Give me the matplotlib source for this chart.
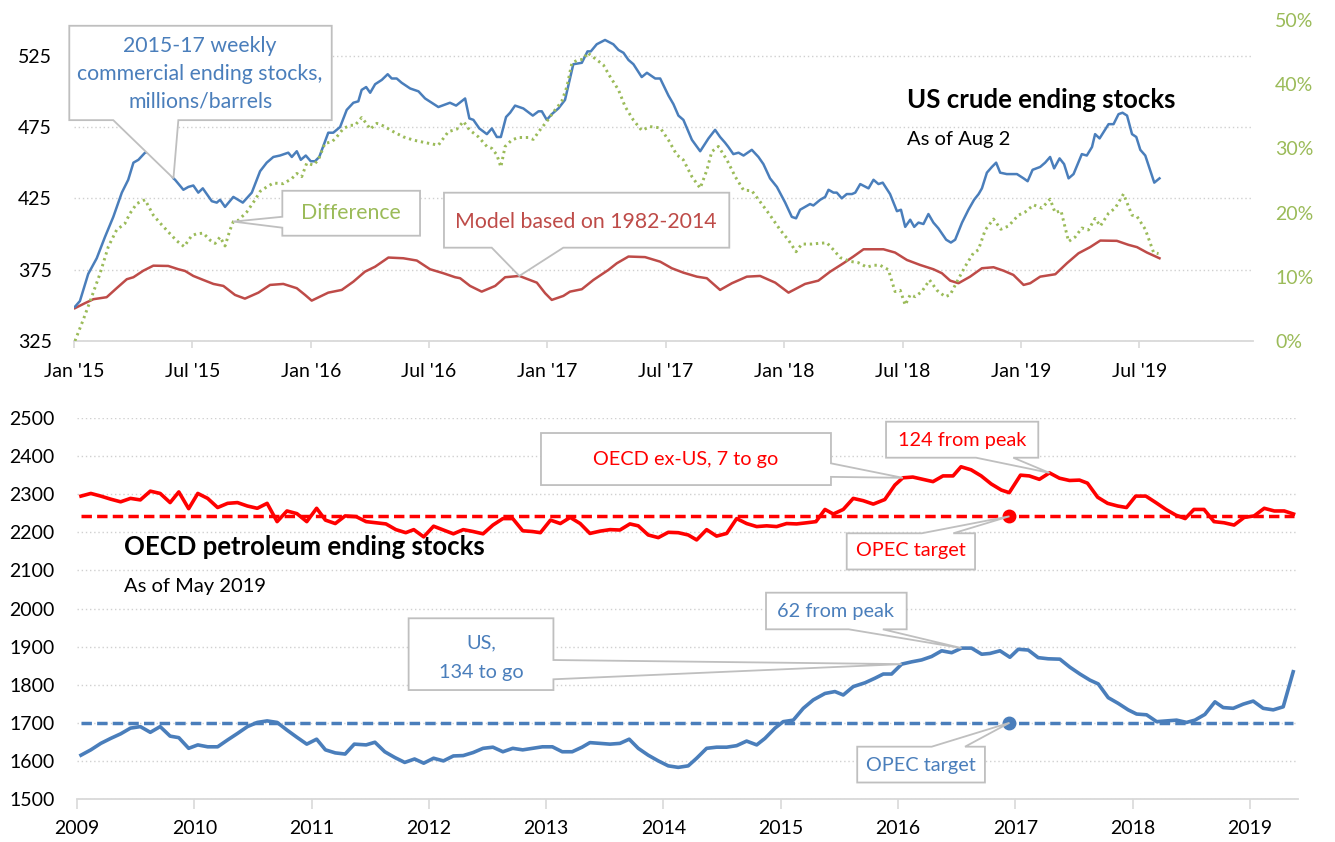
import matplotlib
matplotlib.use("Agg")
import matplotlib.pyplot as plt
from matplotlib.patches import Polygon

plt.rcParams['font.family'] = ['Lato', 'DejaVu Sans']

# ---- top chart: US crude ending stocks (weekly, decimal years) ----
blue_t = [2015.004, 2015.025, 2015.060, 2015.096, 2015.131, 2015.166, 2015.202, 2015.229, 2015.251, 2015.272,
          2015.300, 2015.342, 2015.384, 2015.420, 2015.427, 2015.462, 2015.483, 2015.504, 2015.525, 2015.544,
          2015.582, 2015.603, 2015.617, 2015.638, 2015.673, 2015.713, 2015.751, 2015.786, 2015.814, 2015.842,
          2015.870, 2015.905, 2015.920, 2015.941, 2015.958, 2015.979, 2016.000, 2016.018, 2016.036, 2016.074,
          2016.095, 2016.124, 2016.152, 2016.180, 2016.201, 2016.215, 2016.234, 2016.251, 2016.272, 2016.300,
          2016.325, 2016.342, 2016.363, 2016.384, 2016.420, 2016.455, 2016.483, 2016.539, 2016.588, 2016.614,
          2016.652, 2016.670, 2016.687, 2016.712, 2016.744, 2016.765, 2016.786, 2016.803, 2016.825, 2016.842,
          2016.863, 2016.898, 2016.938, 2016.962, 2016.976, 2016.997, 2017.018, 2017.046, 2017.074, 2017.109,
          2017.145, 2017.169, 2017.183, 2017.208, 2017.243, 2017.278, 2017.300, 2017.321, 2017.342, 2017.363,
          2017.398, 2017.420, 2017.455, 2017.476, 2017.511, 2017.532, 2017.553, 2017.574, 2017.610, 2017.645,
          2017.680, 2017.708, 2017.729, 2017.750, 2017.764, 2017.785, 2017.807, 2017.828, 2017.863, 2017.891,
          2017.912, 2017.940, 2017.969, 2018.004, 2018.032, 2018.050, 2018.067, 2018.109, 2018.123, 2018.152,
          2018.173, 2018.187, 2018.208, 2018.222, 2018.243, 2018.264, 2018.286, 2018.300, 2018.321, 2018.356,
          2018.377, 2018.398, 2018.416, 2018.447, 2018.476, 2018.493, 2018.511, 2018.532, 2018.549, 2018.567,
          2018.588, 2018.609, 2018.630, 2018.651, 2018.684, 2018.704, 2018.722, 2018.751, 2018.778, 2018.802,
          2018.821, 2018.835, 2018.856, 2018.877, 2018.895, 2018.912, 2018.940, 2018.983, 2019.011, 2019.028,
          2019.049, 2019.081, 2019.102, 2019.123, 2019.140, 2019.163, 2019.182, 2019.201, 2019.222, 2019.257,
          2019.278, 2019.300, 2019.313, 2019.332, 2019.370, 2019.391, 2019.412, 2019.429, 2019.448, 2019.469,
          2019.487, 2019.504, 2019.525, 2019.563, 2019.585]
blue_v = [349, 353, 372, 383, 398, 412, 429, 438, 450, 452,
          457, 459, 449, 439, 438, 431, 433, 434, 429, 432,
          423, 422, 424, 419, 426, 422, 429, 444, 450, 454,
          455, 457, 454, 458, 452, 455, 451, 451, 454, 471,
          471, 475, 487, 492, 493, 501, 503, 499, 505, 508,
          512, 509, 509, 506, 502, 500, 495, 489, 492, 490,
          495, 481, 480, 474, 470, 474, 468, 468, 482, 485,
          490, 488, 483, 486, 486, 480, 484, 488, 494, 519,
          520, 528, 528, 533, 536, 533, 529, 527, 522, 519,
          510, 513, 509, 509, 497, 491, 483, 480, 466, 458,
          467, 473, 468, 464, 461, 456, 457, 455, 459, 454,
          449, 439, 433, 422, 412, 411, 417, 421, 420, 424,
          426, 431, 429, 429, 425, 428, 428, 429, 435, 432,
          438, 435, 436, 428, 416, 417, 405, 410, 405, 408,
          407, 414, 408, 404, 396, 394, 396, 408, 417, 424,
          428, 432, 443, 447, 450, 443, 442, 442, 439, 437,
          445, 447, 450, 454, 446, 453, 449, 439, 442, 456,
          455, 461, 470, 467, 477, 477, 484, 485, 483, 470,
          468, 459, 455, 436, 439]

model_t = [2015.004, 2015.046, 2015.082, 2015.138, 2015.180, 2015.223, 2015.251, 2015.293, 2015.335, 2015.398,
           2015.441, 2015.469, 2015.504, 2015.546, 2015.589, 2015.631, 2015.680, 2015.722, 2015.779, 2015.828,
           2015.884, 2015.941, 2015.976, 2016.004, 2016.039, 2016.074, 2016.131, 2016.180, 2016.229, 2016.272,
           2016.328, 2016.391, 2016.448, 2016.504, 2016.560, 2016.610, 2016.631, 2016.673, 2016.722, 2016.779,
           2016.821, 2016.881, 2016.955, 2016.990, 2017.018, 2017.067, 2017.095, 2017.145, 2017.194, 2017.257,
           2017.293, 2017.342, 2017.412, 2017.476, 2017.525, 2017.574, 2017.631, 2017.673, 2017.729, 2017.779,
           2017.842, 2017.898, 2017.962, 2018.018, 2018.088, 2018.144, 2018.194, 2018.250, 2018.292, 2018.335,
           2018.398, 2018.419, 2018.468, 2018.518, 2018.574, 2018.630, 2018.666, 2018.701, 2018.736, 2018.785,
           2018.835, 2018.884, 2018.926, 2018.968, 2019.011, 2019.039, 2019.081, 2019.145, 2019.194, 2019.243,
           2019.292, 2019.335, 2019.405, 2019.454, 2019.490, 2019.532, 2019.585]
model_v = [348, 351.5, 354.3, 355.7, 362, 368.3, 369.7, 374.3, 377.8, 377.6,
           375.3, 374.1, 370.6, 367.8, 365, 363.6, 357.3, 354.7, 358.9, 364.3,
           365, 362, 357.3, 353.3, 356.1, 358.9, 360.8, 366.6, 373.6, 377.1,
           383.5, 383, 381.4, 375.3, 372.5, 369.7, 369, 363.6, 359.6, 363.6,
           369.7, 370.6, 365.9, 358.5, 353.8, 356.6, 359.6, 361.3, 367.8, 374.8,
           379.5, 384.2, 383.8, 380.6, 376, 372.9, 370.1, 369, 360.8, 365.5,
           370.1, 370.6, 365.9, 358.9, 365, 367.3, 373.6, 379.5, 384.2, 389.3,
           389.3, 389.3, 387, 381.8, 378.3, 375.3, 372.5, 367.3, 365.5, 370.1,
           376, 376.7, 374.3, 371.3, 364.3, 365.5, 370.1, 371.8, 379.5, 386.5,
           390.8, 395.4, 395.2, 392.4, 390.8, 387, 383]

diff_t = [2015.004, 2015.039, 2015.075, 2015.110, 2015.145, 2015.180, 2015.215, 2015.237, 2015.265, 2015.300,
          2015.335, 2015.363, 2015.398, 2015.434, 2015.465, 2015.497, 2015.518, 2015.546, 2015.575, 2015.596,
          2015.617, 2015.638, 2015.659, 2015.673, 2015.694, 2015.730, 2015.765, 2015.786, 2015.814, 2015.842,
          2015.884, 2015.920, 2015.941, 2015.962, 2015.983, 2016.011, 2016.032, 2016.060, 2016.089, 2016.110,
          2016.138, 2016.166, 2016.187, 2016.215, 2016.237, 2016.251, 2016.279, 2016.307, 2016.349, 2016.391,
          2016.433, 2016.483, 2016.539, 2016.581, 2016.617, 2016.645, 2016.670, 2016.708, 2016.744, 2016.765,
          2016.786, 2016.803, 2016.821, 2016.849, 2016.877, 2016.919, 2016.940, 2016.969, 2016.997, 2017.032,
          2017.060, 2017.082, 2017.103, 2017.124, 2017.152, 2017.169, 2017.201, 2017.236, 2017.264, 2017.300,
          2017.328, 2017.363, 2017.398, 2017.433, 2017.476, 2017.511, 2017.546, 2017.574, 2017.610, 2017.645,
          2017.673, 2017.694, 2017.722, 2017.758, 2017.793, 2017.828, 2017.863, 2017.898, 2017.940, 2017.983,
          2018.018, 2018.050, 2018.074, 2018.117, 2018.144, 2018.180, 2018.208, 2018.236, 2018.278, 2018.313,
          2018.349, 2018.377, 2018.405, 2018.440, 2018.468, 2018.490, 2018.511, 2018.532, 2018.553, 2018.581,
          2018.614, 2018.645, 2018.680, 2018.701, 2018.729, 2018.764, 2018.799, 2018.820, 2018.849, 2018.884,
          2018.915, 2018.947, 2018.989, 2019.018, 2019.053, 2019.088, 2019.123, 2019.144, 2019.169, 2019.201,
          2019.229, 2019.257, 2019.285, 2019.313, 2019.335, 2019.370, 2019.398, 2019.433, 2019.469, 2019.490,
          2019.525, 2019.560, 2019.581]
diff_v = [0, 3.3, 6.9, 10.5, 14.7, 17.3, 18.3, 19.9, 21.4, 22.0,
          19.6, 18.4, 17.0, 15.6, 14.7, 16.4, 16.7, 16.8, 15.7, 15.2,
          16.2, 14.8, 17.3, 18.6, 18.8, 20.1, 22.0, 23.3, 24.0, 24.6,
          24.5, 25.3, 26.1, 25.6, 27.7, 27.4, 28.2, 30.8, 31.0, 31.8,
          33.1, 33.6, 33.6, 34.8, 33.8, 33.0, 33.9, 33.5, 32.6, 31.8,
          31.3, 30.9, 30.5, 32.6, 33.0, 34.2, 32.9, 31.8, 30.3, 30.0,
          29.0, 27.1, 30.3, 31.3, 31.7, 31.7, 31.4, 32.9, 34.2, 36.0,
          37.3, 39.6, 43.3, 43.7, 43.9, 44.9, 44.0, 43.0, 41.2, 39.1,
          36.5, 34.4, 32.8, 33.4, 33.2, 31.3, 29.0, 28.2, 25.6, 23.8,
          26.6, 29.5, 30.3, 28.2, 25.6, 23.5, 23.4, 21.7, 19.6, 17.3,
          15.7, 13.9, 15.1, 15.1, 15.2, 15.3, 14.2, 13.0, 12.4, 12.2,
          11.5, 11.8, 11.8, 11.1, 7.7, 7.9, 5.6, 7.2, 6.9, 7.7,
          9.5, 7.9, 6.9, 7.2, 9.2, 11.6, 13.7, 14.2, 17.3, 19.0,
          17.4, 17.9, 19.6, 20.1, 21.2, 20.7, 22.1, 20.0, 20.3, 15.5,
          16.2, 17.6, 17.3, 19.1, 17.9, 19.9, 20.7, 22.9, 19.6, 19.4,
          17.4, 13.8, 13.6]

top_ticks = [2015, 2015.5, 2016, 2016.5, 2017, 2017.5, 2018, 2018.5, 2019, 2019.5]
top_labels = ["Jan '15", "Jul '15", "Jan '16", "Jul '16", "Jan '17", "Jul '17",
              "Jan '18", "Jul '18", "Jan '19", "Jul '19"]

# ---- bottom chart: OECD petroleum ending stocks (monthly, decimal years) ----
exus_t = [2009.034, 2009.118, 2009.203, 2009.287, 2009.372, 2009.456, 2009.540, 2009.625, 2009.709, 2009.794,
          2009.868, 2009.952, 2010.030, 2010.114, 2010.199, 2010.284, 2010.368, 2010.453, 2010.537, 2010.621,
          2010.706, 2010.790, 2010.875, 2010.959, 2011.043, 2011.118, 2011.202, 2011.286, 2011.381, 2011.465,
          2011.550, 2011.634, 2011.719, 2011.803, 2011.871, 2011.956, 2012.040, 2012.124, 2012.209, 2012.293,
          2012.378, 2012.462, 2012.546, 2012.631, 2012.715, 2012.800, 2012.884, 2012.951, 2013.037, 2013.121,
          2013.205, 2013.290, 2013.373, 2013.459, 2013.544, 2013.629, 2013.714, 2013.785, 2013.870, 2013.956,
          2014.041, 2014.126, 2014.211, 2014.283, 2014.368, 2014.453, 2014.539, 2014.624, 2014.709, 2014.795,
          2014.880, 2014.965, 2015.050, 2015.136, 2015.221, 2015.300, 2015.377, 2015.448, 2015.533, 2015.618,
          2015.703, 2015.789, 2015.887, 2015.973, 2016.041, 2016.126, 2016.212, 2016.298, 2016.383, 2016.469,
          2016.537, 2016.623, 2016.709, 2016.794, 2016.880, 2016.948, 2017.044, 2017.119, 2017.205, 2017.291,
          2017.376, 2017.462, 2017.547, 2017.615, 2017.702, 2017.787, 2017.873, 2017.948, 2018.026, 2018.113,
          2018.198, 2018.284, 2018.369, 2018.448, 2018.523, 2018.609, 2018.694, 2018.780, 2018.865, 2018.951,
          2019.036, 2019.122, 2019.208, 2019.293, 2019.372]
exus_v = [2295, 2302, 2295, 2287, 2280, 2289, 2285, 2308, 2302, 2278,
          2306, 2262, 2302, 2289, 2265, 2276, 2278, 2269, 2263, 2276,
          2228, 2256, 2249, 2228, 2263, 2232, 2223, 2243, 2241, 2228,
          2225, 2222, 2207, 2199, 2207, 2188, 2216, 2206, 2196, 2207,
          2202, 2196, 2219, 2236, 2236, 2204, 2202, 2199, 2232, 2223,
          2239, 2223, 2197, 2203, 2207, 2206, 2222, 2217, 2193, 2186,
          2200, 2199, 2193, 2180, 2207, 2190, 2197, 2236, 2223, 2215,
          2217, 2215, 2223, 2222, 2225, 2228, 2260, 2248, 2260, 2289,
          2283, 2274, 2286, 2324, 2343, 2345, 2339, 2333, 2348, 2348,
          2372, 2364, 2348, 2327, 2311, 2304, 2350, 2348, 2339, 2356,
          2342, 2336, 2337, 2329, 2292, 2276, 2269, 2265, 2295, 2295,
          2278, 2260, 2245, 2236, 2260, 2260, 2228, 2225, 2219, 2239,
          2243, 2263, 2256, 2256, 2248]

us_t = [2009.034, 2009.118, 2009.203, 2009.287, 2009.372, 2009.456, 2009.540, 2009.625, 2009.709, 2009.794,
        2009.868, 2009.952, 2010.030, 2010.114, 2010.199, 2010.284, 2010.368, 2010.453, 2010.537, 2010.621,
        2010.706, 2010.790, 2010.875, 2010.959, 2011.043, 2011.118, 2011.202, 2011.286, 2011.364, 2011.465,
        2011.540, 2011.624, 2011.709, 2011.794, 2011.878, 2011.956, 2012.040, 2012.124, 2012.209, 2012.293,
        2012.378, 2012.462, 2012.546, 2012.631, 2012.715, 2012.800, 2012.884, 2012.968, 2013.053, 2013.137,
        2013.222, 2013.306, 2013.373, 2013.459, 2013.544, 2013.629, 2013.708, 2013.785, 2013.870, 2013.956,
        2014.041, 2014.126, 2014.211, 2014.283, 2014.368, 2014.453, 2014.539, 2014.624, 2014.709, 2014.795,
        2014.865, 2014.951, 2015.021, 2015.107, 2015.192, 2015.277, 2015.377, 2015.462, 2015.533, 2015.618,
        2015.718, 2015.803, 2015.874, 2015.945, 2016.031, 2016.116, 2016.201, 2016.286, 2016.372, 2016.457,
        2016.542, 2016.627, 2016.713, 2016.783, 2016.869, 2016.954, 2017.025, 2017.110, 2017.195, 2017.280,
        2017.380, 2017.465, 2017.551, 2017.636, 2017.707, 2017.792, 2017.877, 2017.962, 2018.034, 2018.119,
        2018.205, 2018.290, 2018.375, 2018.460, 2018.531, 2018.616, 2018.702, 2018.772, 2018.858, 2018.943,
        2019.028, 2019.113, 2019.199, 2019.284, 2019.369]
us_v = [1615, 1629, 1646, 1659, 1671, 1686, 1690, 1675, 1690, 1665,
        1661, 1633, 1642, 1637, 1637, 1655, 1672, 1690, 1701, 1705,
        1701, 1681, 1662, 1644, 1657, 1629, 1621, 1618, 1644, 1642,
        1649, 1624, 1609, 1596, 1605, 1594, 1607, 1600, 1613, 1614,
        1622, 1633, 1636, 1624, 1633, 1629, 1633, 1637, 1637, 1624,
        1624, 1636, 1648, 1646, 1644, 1646, 1657, 1633, 1615, 1600,
        1587, 1583, 1587, 1607, 1633, 1636, 1636, 1640, 1652, 1642,
        1659, 1686, 1703, 1707, 1738, 1760, 1777, 1782, 1773, 1795,
        1805, 1817, 1828, 1828, 1854, 1860, 1865, 1874, 1889, 1884,
        1896, 1896, 1880, 1882, 1889, 1872, 1893, 1891, 1871, 1868,
        1867, 1846, 1828, 1812, 1802, 1766, 1751, 1734, 1723, 1721,
        1703, 1705, 1707, 1701, 1707, 1722, 1755, 1740, 1738, 1749,
        1757, 1738, 1734, 1742, 1834]

exus_target = 2242
us_target = 1700
target_date = 2016.95
bottom_ticks = list(range(2009, 2020))

BLUE = '#4a7ebb'
RED_T = '#be4b48'
GREEN = '#9bbb59'
RED_B = '#ff0000'
GRID = '#d0d0d0'
AXIS = '#d9d9d9'
BOX_EDGE = '#bfbfbf'


def callout(host, box, side, base, tip, lines, color, size=14):
    x0, y0, x1, y1 = box
    tx, ty = host.transAxes.inverted().transform(tip)
    b1, b2 = base
    if side == 'bottom':
        pts = [(x0, y0), (b1, y0), (tx, ty), (b2, y0), (x1, y0), (x1, y1), (x0, y1)]
    elif side == 'top':
        pts = [(x0, y0), (x1, y0), (x1, y1), (b2, y1), (tx, ty), (b1, y1), (x0, y1)]
    elif side == 'left':
        pts = [(x0, y0), (x1, y0), (x1, y1), (x0, y1), (x0, b1), (tx, ty), (x0, b2)]
    else:
        pts = [(x0, y0), (x1, y0), (x1, b2), (tx, ty), (x1, b1), (x1, y1), (x0, y1)]
    host.add_patch(Polygon(pts, closed=True, transform=host.transAxes, facecolor='white',
                           edgecolor=BOX_EDGE, lw=1.3, zorder=10, clip_on=False))
    for fx, fy, s in lines:
        host.text(fx, fy, s, transform=host.transAxes, ha='center', va='center',
                  color=color, fontsize=size, zorder=11)


def style(a, xlen=5, xpad=6):
    for s in ['top', 'left', 'right']:
        a.spines[s].set_visible(False)
    a.spines['bottom'].set_color(AXIS)
    a.spines['bottom'].set_linewidth(1.3)
    a.tick_params(axis='y', length=0, labelsize=14, pad=16)
    a.tick_params(axis='x', length=xlen, color=AXIS, width=1.2, labelsize=14, pad=xpad)


fig = plt.figure(figsize=(13.35, 8.42), dpi=100)

# ---------------- top ----------------
ax = fig.add_axes([74 / 1335, 1 - 341 / 842, 1179 / 1335, 321 / 842])
ax2 = ax.twinx()
ax.plot(model_t, model_v, color=RED_T, lw=1.8, zorder=3)
ax.plot(blue_t, blue_v, color=BLUE, lw=1.8, zorder=4)
ax2.plot(diff_t, diff_v, color=GREEN, lw=2.1, linestyle=(0, (0.8, 1.3)))

ax.set_xlim(2015.0, 2019.98)
ax.set_ylim(325, 550)
ax2.set_ylim(0, 50)
ax.set_yticks([325, 375, 425, 475, 525])
ax2.set_yticks([0, 10, 20, 30, 40, 50])
ax2.set_yticklabels([f'{v}%' for v in [0, 10, 20, 30, 40, 50]], color=GREEN)
ax.set_xticks(top_ticks)
ax.set_xticklabels(top_labels)
style(ax, xpad=11)
style(ax2)
ax2.spines['bottom'].set_visible(False)
ax.grid(axis='y', linestyle=(0, (1, 2)), color=GRID, lw=1)
ax.set_axisbelow(True)

ax.text(0.7065, 0.751, 'US crude ending stocks', transform=ax.transAxes, fontsize=18.5,
        fontweight='bold', ha='left', va='center')
ax.text(0.7065, 0.629, 'As of Aug 2', transform=ax.transAxes, fontsize=14.5,
        ha='left', va='center')

callout(ax2, (-0.004, 0.688, 0.2186, 0.982), 'bottom', (0.0333, 0.0885),
        ax.transData.transform((blue_t[13], blue_v[13])),
        [(0.107, 0.919, '2015-17 weekly'), (0.107, 0.832, 'commercial ending stocks,'),
         (0.107, 0.745, 'millions/barrels')], BLUE, size=15.3)
callout(ax2, (0.1767, 0.328, 0.2935, 0.468), 'left', (0.387, 0.353),
        ax2.transData.transform((diff_t[23], diff_v[23])),
        [(0.235, 0.399, 'Difference')], GREEN, size=15.3)
callout(ax2, (0.3138, 0.2907, 0.5558, 0.462), 'bottom', (0.3543, 0.415),
        ax.transData.transform((model_t[41], model_v[41])),
        [(0.434, 0.371, 'Model based on 1982-2014')], RED_T, size=15.3)

# ---------------- bottom ----------------
bx = fig.add_axes([77 / 1335, 1 - 799 / 842, 1221 / 1335, 381 / 842])
bx.plot([exus_t[0], exus_t[-1]], [exus_target, exus_target], color=RED_B, lw=2.5,
        linestyle=(0, (3, 1.5)), zorder=3)
bx.plot([us_t[0], us_t[-1]], [us_target, us_target], color=BLUE, lw=2.5,
        linestyle=(0, (3, 1.5)), zorder=3)
bx.plot(exus_t, exus_v, color=RED_B, lw=2.6, zorder=4)
bx.plot(us_t, us_v, color=BLUE, lw=2.6, zorder=4)
bx.plot([target_date], [exus_target], 'o', color=RED_B, ms=9, zorder=5)
bx.plot([target_date], [us_target], 'o', color=BLUE, ms=9, zorder=5)

bx.set_xlim(2009, 2019.41)
bx.set_ylim(1500, 2500)
bx.set_yticks(range(1500, 2501, 100))
bx.set_xticks(bottom_ticks)
bx.set_xticklabels([str(y) for y in bottom_ticks])
style(bx, xlen=7, xpad=8)
bx.grid(axis='y', linestyle=(0, (1, 2)), color=GRID, lw=1)
bx.set_axisbelow(True)

bx.text(0.0385, 0.662, 'OECD petroleum ending stocks', transform=bx.transAxes, fontsize=18.5,
        fontweight='bold', ha='left', va='center')
bx.text(0.0385, 0.559, 'As of May 2019', transform=bx.transAxes, fontsize=14.5,
        ha='left', va='center')

callout(bx, (0.38, 0.824, 0.6175, 0.9606), 'right', (0.881, 0.8455),
        bx.transData.transform((exus_t[84], exus_v[84])),
        [(0.4988, 0.89, 'OECD ex-US, 7 to go')], RED_B, size=14.3)
callout(bx, (0.6626, 0.8958, 0.7873, 0.9903), 'bottom', (0.7363, 0.7668),
        bx.transData.transform((exus_t[99], exus_v[99])),
        [(0.7248, 0.942, '124 from peak')], RED_B, size=14.3)
callout(bx, (0.6304, 0.6024, 0.7355, 0.6974), 'top', (0.6918, 0.7177),
        bx.transData.transform((target_date, exus_target)),
        [(0.683, 0.651, 'OPEC target')], RED_B, size=14.3)
callout(bx, (0.5643, 0.4454, 0.6795, 0.5415), 'bottom', (0.632, 0.66),
        bx.transData.transform((us_t[90], us_v[90])),
        [(0.6216, 0.4934, '62 from peak')], BLUE, size=14.3)
callout(bx, (0.2716, 0.286, 0.3902, 0.4743), 'right', (0.3648, 0.3142),
        bx.transData.transform((us_t[84], us_v[84])),
        [(0.3309, 0.4094, 'US,'), (0.3309, 0.3333, '134 to go')], BLUE, size=14.3)
callout(bx, (0.639, 0.0433, 0.7436, 0.1373), 'top', (0.70, 0.7273),
        bx.transData.transform((target_date, us_target)),
        [(0.6912, 0.0892, 'OPEC target')], BLUE, size=14.3)

fig.savefig('out.png', dpi=100)
